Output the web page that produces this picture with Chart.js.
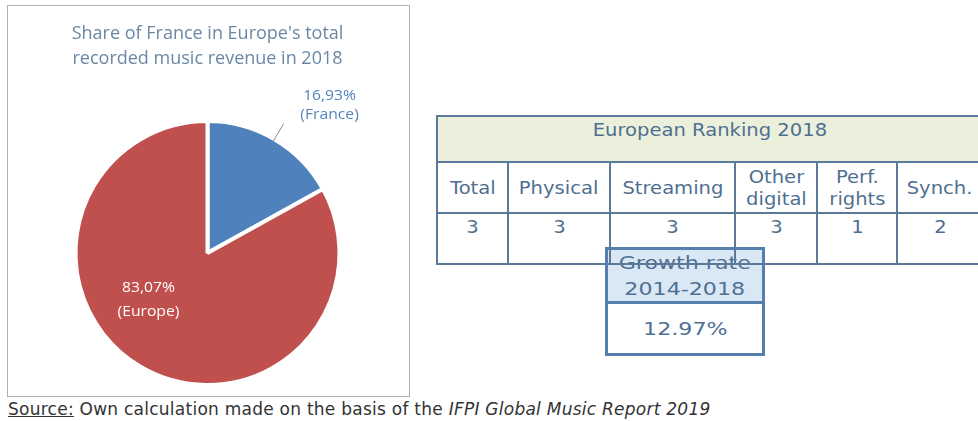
<!DOCTYPE html>
<html>
<head>
<meta charset="utf-8">
<script src="https://cdn.jsdelivr.net/npm/chart.js@4.4.1/dist/chart.umd.min.js"></script>
<style>
  html, body { margin: 0; padding: 0; background: #fff; width: 978px; height: 421px; overflow: hidden; }
  #pieBox { position: absolute; left: 7px; top: 5px; width: 401px; height: 390px; border: 1px solid #a7b0bc; }
  #pieBox canvas { display: block; }
  #ranking {
    position: absolute; left: 436px; top: 115px; z-index: 2;
    border-collapse: collapse; table-layout: fixed;
    font-family: 'DejaVu Sans', Verdana, sans-serif; font-size: 17px; line-height: 22px; color: #4f6f90;
  }
  #ranking td { border: 2px solid #5b7a99; text-align: center; padding: 0; background: transparent; }
  #ranking td span { display: inline-block; transform: scaleX(1.15); }
  #ranking tr.head td { background: #ebf0dd; vertical-align: top; padding-top: 2px; height: 42px; }
  #ranking tr.cats td { height: 49px; }
  #ranking tr.vals td { height: 47px; vertical-align: top; padding-top: 2px; }
  #growth {
    position: absolute; left: 605px; top: 247px; width: 154px; z-index: 1;
    border: 3px solid #5580ad; background: #fff;
    font-family: 'DejaVu Sans', Verdana, sans-serif; font-size: 18px; color: #4f7094; text-align: center;
  }
  #growth span { display: inline-block; transform: scaleX(1.23); }
  #growth .cap { background: #dae8f5; height: 51px; line-height: 26px; border-bottom: 3px solid #5580ad; }
  #growth .val { height: 49px; line-height: 49px; }
  #source {
    position: absolute; left: 8px; top: 399px; white-space: nowrap; letter-spacing: 0.25px;
    font-family: 'DejaVu Sans', Verdana, sans-serif; font-size: 17px; color: #333;
  }
  #source u { text-decoration: underline; }
</style>
</head>
<body>
<div id="pieBox"><canvas id="shareChart"></canvas></div>
<table id="ranking"></table>
<div id="growth"></div>
<div id="source"><u>Source:</u> Own calculation made on the basis of the <i>IFPI Global Music Report 2019</i></div>
<script>
// revenue share, 2018
const shareLabels = ['France', 'Europe'];
const shareValues = [16.93, 83.07];
const shareColors = ['#4f81bd', '#c0504d'];

// European ranking by revenue stream
const rankingTitle = 'European Ranking 2018';
const rankingCategories = ['Total', 'Physical', 'Streaming', 'Other digital', 'Perf. rights', 'Synch.'];
const rankingValues = [3, 3, 3, 3, 1, 2];
const rankingWidths = [71, 102, 125, 82, 80, 86];

const growthPeriod = '2014-2018';
const growthRate = 12.97;

function pct(v) {
    return v.toFixed(2).replace('.', ',') + '%';
}

// ranking table (wider than the page, the last column runs off the edge)
const table = document.getElementById('ranking');
table.style.width = rankingWidths.reduce((a, b) => a + b, 0) + 'px';
let html = '<colgroup>' + rankingWidths.map(w => `<col style="width:${w}px">`).join('') + '</colgroup>';
html += `<tr class="head"><td colspan="${rankingCategories.length}"><span>${rankingTitle}</span></td></tr>`;
html += '<tr class="cats">' + rankingCategories.map(c => `<td><span>${c.replace(' ', '<br>')}</span></td>`).join('') + '</tr>';
html += '<tr class="vals">' + rankingValues.map(v => `<td><span>${v}</span></td>`).join('') + '</tr>';
table.innerHTML = html;

document.getElementById('growth').innerHTML =
    `<div class="cap"><span>Growth rate<br>${growthPeriod}</span></div>` +
    `<div class="val"><span>${growthRate.toFixed(2)}%</span></div>`;

// text drawn slightly widened, like the rest of the figure
function wideText(ctx, text, x, y, sx) {
    ctx.save();
    ctx.translate(x, y);
    ctx.scale(sx, 1);
    ctx.fillText(text, 0, 0);
    ctx.restore();
}

// slice labels: France outside with a leader line, Europe inside
const sliceLabels = {
    id: 'sliceLabels',
    afterDatasetsDraw(chart) {
        const ctx = chart.ctx;
        const meta = chart.getDatasetMeta(0);
        ctx.save();
        ctx.font = '14px "Open Sans", Lato, sans-serif';
        ctx.textAlign = 'center';
        ctx.textBaseline = 'middle';
        meta.data.forEach((arc, i) => {
            const p = arc.getProps(['x', 'y', 'startAngle', 'endAngle', 'outerRadius'], true);
            const mid = (p.startAngle + p.endAngle) / 2;
            const lines = [pct(shareValues[i]), '(' + shareLabels[i] + ')'];
            if (i === 0) {
                const r0 = p.outerRadius - 2, r1 = p.outerRadius + 18;
                const x0 = p.x + Math.cos(mid) * r0, y0 = p.y + Math.sin(mid) * r0;
                const x1 = p.x + Math.cos(mid) * r1, y1 = p.y + Math.sin(mid) * r1;
                ctx.strokeStyle = '#8c8c8c';
                ctx.lineWidth = 1;
                ctx.beginPath();
                ctx.moveTo(x0, y0);
                ctx.lineTo(x1, y1);
                ctx.stroke();
                ctx.fillStyle = '#5585bb';
                wideText(ctx, lines[0], x1 + 46, y1 - 28, 1.12);
                wideText(ctx, lines[1], x1 + 46, y1 - 9, 1.12);
            } else {
                const a = mid + 0.37, r = p.outerRadius * 0.57;
                const cx = p.x + Math.cos(a) * r, cy = p.y + Math.sin(a) * r;
                ctx.fillStyle = '#ffffff';
                wideText(ctx, lines[0], cx, cy - 12, 1.12);
                wideText(ctx, lines[1], cx, cy + 12, 1.12);
            }
        });
        ctx.restore();
    }
};

new Chart(document.getElementById('shareChart'), {
    type: 'pie',
    data: {
        labels: shareLabels,
        datasets: [{
            data: shareValues,
            backgroundColor: shareColors,
            borderColor: '#ffffff',
            borderWidth: 4
        }]
    },
    options: {
        responsive: true,
        maintainAspectRatio: false,
        animation: false,
        layout: { padding: { top: 0, bottom: 9, left: 0, right: 2 } },
        plugins: {
            legend: { display: false },
            tooltip: { enabled: false },
            title: {
                display: true,
                text: ["Share of France in Europe's total", 'recorded music revenue in 2018'],
                color: '#6a88a6',
                font: { family: '"Open Sans", Lato, sans-serif', size: 18, weight: 'normal', lineHeight: 25 / 18 },
                padding: { top: 15, bottom: 48 }
            }
        }
    },
    plugins: [sliceLabels]
});
</script>
</body>
</html>
